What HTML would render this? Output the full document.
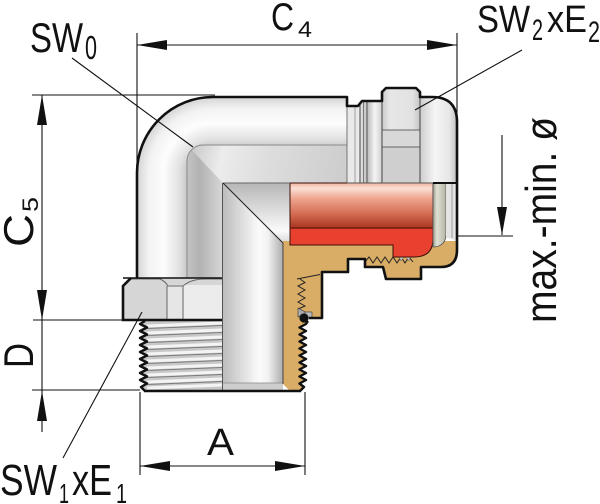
<!DOCTYPE html>
<html><head><meta charset="utf-8"><style>html,body{margin:0;padding:0;background:#fff;width:600px;height:504px;overflow:hidden}svg{display:block}text{font-family:"Liberation Sans",sans-serif;fill:#111}</style></head>
<body>
<svg width="600" height="504" viewBox="0 0 600 504" xmlns="http://www.w3.org/2000/svg">
<defs>
<linearGradient id="shL" gradientUnits="userSpaceOnUse" x1="213" y1="0" x2="137" y2="0">
<stop offset="0.34" stop-color="#c8c8c8"/><stop offset="0.45" stop-color="#e2e2e2"/><stop offset="0.65" stop-color="#fdfdfd"/><stop offset="0.85" stop-color="#f2f2f2"/><stop offset="1" stop-color="#d4d4d4"/></linearGradient>
<linearGradient id="shT" gradientUnits="userSpaceOnUse" x1="0" y1="173" x2="0" y2="97">
<stop offset="0.34" stop-color="#c8c8c8"/><stop offset="0.45" stop-color="#e2e2e2"/><stop offset="0.65" stop-color="#fdfdfd"/><stop offset="0.85" stop-color="#f2f2f2"/><stop offset="1" stop-color="#d4d4d4"/></linearGradient>
<radialGradient id="shC" gradientUnits="userSpaceOnUse" cx="213" cy="173" r="76">
<stop offset="0.34" stop-color="#c8c8c8"/><stop offset="0.45" stop-color="#e2e2e2"/><stop offset="0.65" stop-color="#fdfdfd"/><stop offset="0.85" stop-color="#f2f2f2"/><stop offset="1" stop-color="#d4d4d4"/></radialGradient>
<linearGradient id="mdL" gradientUnits="userSpaceOnUse" x1="187" y1="0" x2="223" y2="0">
<stop offset="0" stop-color="#c4c4c4"/><stop offset="0.35" stop-color="#b2b2b2"/><stop offset="1" stop-color="#d8d8d8"/></linearGradient>
<linearGradient id="mdT" gradientUnits="userSpaceOnUse" x1="187" y1="145" x2="348" y2="183">
<stop offset="0" stop-color="#c4c4c4"/><stop offset="0.22" stop-color="#ececec"/><stop offset="0.5" stop-color="#dddddd"/><stop offset="1" stop-color="#cccccc"/></linearGradient>
<linearGradient id="boV" gradientUnits="userSpaceOnUse" x1="223" y1="0" x2="283" y2="0">
<stop offset="0" stop-color="#bcbcbc"/><stop offset="0.25" stop-color="#d6d6d6"/><stop offset="0.6" stop-color="#fbfbfb"/><stop offset="0.75" stop-color="#f2f2f2"/><stop offset="1" stop-color="#acacac"/></linearGradient>
<linearGradient id="boH" gradientUnits="userSpaceOnUse" x1="0" y1="183" x2="0" y2="243">
<stop offset="0" stop-color="#b6b6b6"/><stop offset="0.4" stop-color="#d8d8d8"/><stop offset="0.8" stop-color="#fafafa"/><stop offset="1" stop-color="#d8d8d8"/></linearGradient>
<linearGradient id="rd" gradientUnits="userSpaceOnUse" x1="0" y1="183" x2="0" y2="228">
<stop offset="0" stop-color="#f0b4a0"/><stop offset="0.12" stop-color="#fbe0d6"/><stop offset="0.35" stop-color="#eea48d"/><stop offset="0.7" stop-color="#d36a50"/><stop offset="1" stop-color="#a8351f"/></linearGradient>
<linearGradient id="sl" gradientUnits="userSpaceOnUse" x1="433" y1="0" x2="446" y2="0">
<stop offset="0" stop-color="#9c9c8c"/><stop offset="0.3" stop-color="#e0e0d4"/><stop offset="1" stop-color="#b4b4a4"/></linearGradient>
<linearGradient id="dm" gradientUnits="userSpaceOnUse" x1="420" y1="0" x2="457" y2="0">
<stop offset="0" stop-color="#cdcdcd"/><stop offset="0.4" stop-color="#f5f5f5"/><stop offset="0.8" stop-color="#e6e6e6"/><stop offset="1" stop-color="#c0c0c0"/></linearGradient>
<linearGradient id="hx" gradientUnits="userSpaceOnUse" x1="382" y1="0" x2="420" y2="0">
<stop offset="0" stop-color="#cacaca"/><stop offset="0.2" stop-color="#e6e6e6"/><stop offset="0.8" stop-color="#e2e2e2"/><stop offset="1" stop-color="#c6c6c6"/></linearGradient>
<linearGradient id="rg" gradientUnits="userSpaceOnUse" x1="358" y1="0" x2="382" y2="0">
<stop offset="0" stop-color="#f0f0f0"/><stop offset="0.4" stop-color="#bdbdbd"/><stop offset="0.7" stop-color="#f4f4f4"/><stop offset="1" stop-color="#d0d0d0"/></linearGradient>
<clipPath id="mbc"><path d="M187,280 V161 A16,16 0 0 1 203,145 H347 V183 H223 V280 Z"/></clipPath>
</defs>

<!-- outer shell -->
<rect x="137" y="173" width="50" height="107" fill="url(#shL)"/>
<rect x="213" y="97" width="134" height="48" fill="url(#shT)"/>
<path d="M213,173 H137 A76,76 0 0 1 213,97 Z" fill="url(#shC)"/>
<!-- middle band -->
<path d="M187,280 V161 A16,16 0 0 1 203,145 H347 V183 H223 V280 Z" fill="url(#mdL)"/>
<polygon points="187,145 347,145 347,183 223,183" fill="url(#mdT)" clip-path="url(#mbc)"/>
<path d="M187,280 V161 A16,16 0 0 1 203,145 H347" fill="none" stroke="#8a8a8a" stroke-width="1"/>

<!-- top right components -->
<rect x="347" y="106" width="11" height="77" fill="#e9e9e9"/>
<line x1="355" y1="106" x2="355" y2="183" stroke="#a0a0a0" stroke-width="1"/>
<path d="M358,183 V106 L362,101 H382 V183 Z" fill="url(#rg)"/>
<line x1="360" y1="103" x2="360" y2="183" stroke="#444" stroke-width="1"/>
<line x1="363.5" y1="101" x2="363.5" y2="183" stroke="#777" stroke-width="1"/>
<line x1="367" y1="101" x2="367" y2="183" stroke="#555" stroke-width="1"/>
<path d="M382,183 V92 L386,88 H416 L420,92 V183 Z" fill="url(#hx)"/>
<rect x="382" y="130" width="38" height="17" fill="#d8d8d8"/>
<rect x="382" y="147" width="38" height="36" fill="#cfcfcf"/>
<line x1="382" y1="130" x2="420" y2="130" stroke="#666" stroke-width="1"/>
<line x1="382" y1="147" x2="420" y2="147" stroke="#666" stroke-width="1"/>
<line x1="382" y1="101" x2="382" y2="183" stroke="#444" stroke-width="1"/>
<path d="M420,183 V97 H432 Q457,97 457,122 V183 Z" fill="url(#dm)"/>
<line x1="420" y1="92" x2="420" y2="183" stroke="#444" stroke-width="1"/>
<line x1="347" y1="97" x2="347" y2="183" stroke="#777" stroke-width="1"/>

<!-- bore -->
<rect x="223" y="183" width="60" height="208" fill="url(#boV)"/>
<polygon points="223,183 290,183 290,243 283,243" fill="url(#boH)"/>
<rect x="223" y="383" width="60" height="8" fill="#cdcdcd"/>
<line x1="223" y1="383" x2="283" y2="383" stroke="#888" stroke-width="0.8"/>

<!-- brass -->
<path d="M283,241 H458 V250 Q458,267 441,267 H421 V279 H386 L383,267 H365 V259 H348 V272 H322 V318 H308 L308,321 306,324 299.5,327.5 306,331 299.5,334.5 306,338 299.5,341.5 306,345 299.5,348.5 306,352 299.5,355.5 306,359 299.5,362.5 306,366 299.5,369.5 306,373 299.5,376.5 306,380 299.5,383.5 304,387 300,391 H290 L283,384 Z" fill="#d9ad66"/>
<polyline points="297,279 320,274.5" fill="none" stroke="#222" stroke-width="1"/>
<polyline points="300,279 305,282.5 298,286 305,290 298,294 305,298 298,302 305,306 298,309" fill="none" stroke="#222" stroke-width="1"/>
<polyline points="365,262 369,257 373,263 377,257 381,263 385,257 389,263 393,257 397,263 401,257 405,263 409,257 413,262" fill="none" stroke="#222" stroke-width="1"/>
<polygon points="397,252 412,252 409,261 405,256 401,261" fill="#c8c8c8" stroke="#555" stroke-width="0.5"/>
<polygon points="298,308 307,313 298,317" fill="#aaa" stroke="#333" stroke-width="0.6"/>
<rect x="305" y="312" width="7" height="6" fill="#bbb" stroke="#333" stroke-width="0.6"/>
<circle cx="304" cy="318" r="4.6" fill="#111"/>
<line x1="283" y1="243" x2="283" y2="384" stroke="#444" stroke-width="1"/>

<!-- red seal -->
<path d="M290,183 H433 V239 Q433,257 414,257 H393 V245 H290 Z" fill="#e8412f" stroke="#3a1008" stroke-width="1"/>
<rect x="290.5" y="183.5" width="142" height="44.5" fill="url(#rd)"/>
<line x1="290" y1="228" x2="433" y2="228" stroke="#6e1e10" stroke-width="1.5"/>

<!-- sleeve / cap right -->
<path d="M433,183 H446 V234 Q446,246 434,247 L433,247 Z" fill="url(#sl)" stroke="#555" stroke-width="0.8"/>
<path d="M446,183 H457 V242 Q452,238 446,238 Z" fill="#e4e4e4"/>
<line x1="452" y1="183" x2="452" y2="238" stroke="#9a9a9a" stroke-width="1"/>
<line x1="433" y1="183" x2="457" y2="183" stroke="#111" stroke-width="2"/>
<line x1="347" y1="183" x2="433" y2="183" stroke="#555" stroke-width="1"/>

<!-- bottom hex nut -->
<path d="M123,320 V286 L131,278 H222 V320 Z" fill="#d6d6d6"/>
<rect x="167" y="285" width="16" height="35" fill="#e6e6e6"/>
<rect x="183" y="285" width="39" height="35" fill="#ececec"/>
<path d="M131,279 H160 Q165,281 168,286 H183 Q191,279 205,279 H222" fill="none" stroke="#666" stroke-width="1"/>
<line x1="167" y1="286" x2="167" y2="320" stroke="#666" stroke-width="1"/>
<line x1="183" y1="286" x2="183" y2="320" stroke="#666" stroke-width="1"/>
<line x1="123" y1="278" x2="222" y2="278" stroke="#111" stroke-width="1.6"/>

<!-- threads -->
<rect x="143" y="320" width="80" height="71" fill="#c8c8c8"/>
<g stroke-linecap="butt">
<line x1="147" y1="326" x2="222" y2="323" stroke="#f4f4f4" stroke-width="3"/><line x1="147" y1="328.5" x2="222" y2="325.5" stroke="#7a7a7a" stroke-width="1"/>
<line x1="147" y1="333" x2="222" y2="330" stroke="#f4f4f4" stroke-width="3"/><line x1="147" y1="335.5" x2="222" y2="332.5" stroke="#7a7a7a" stroke-width="1"/>
<line x1="147" y1="340" x2="222" y2="337" stroke="#f4f4f4" stroke-width="3"/><line x1="147" y1="342.5" x2="222" y2="339.5" stroke="#7a7a7a" stroke-width="1"/>
<line x1="147" y1="347" x2="222" y2="344" stroke="#f4f4f4" stroke-width="3"/><line x1="147" y1="349.5" x2="222" y2="346.5" stroke="#7a7a7a" stroke-width="1"/>
<line x1="147" y1="354" x2="222" y2="351" stroke="#f4f4f4" stroke-width="3"/><line x1="147" y1="356.5" x2="222" y2="353.5" stroke="#7a7a7a" stroke-width="1"/>
<line x1="147" y1="361" x2="222" y2="358" stroke="#f4f4f4" stroke-width="3"/><line x1="147" y1="363.5" x2="222" y2="360.5" stroke="#7a7a7a" stroke-width="1"/>
<line x1="147" y1="368" x2="222" y2="365" stroke="#f4f4f4" stroke-width="3"/><line x1="147" y1="370.5" x2="222" y2="367.5" stroke="#7a7a7a" stroke-width="1"/>
<line x1="147" y1="375" x2="222" y2="372" stroke="#f4f4f4" stroke-width="3"/><line x1="147" y1="377.5" x2="222" y2="374.5" stroke="#7a7a7a" stroke-width="1"/>
<line x1="147" y1="382" x2="222" y2="379" stroke="#f4f4f4" stroke-width="3"/><line x1="147" y1="384.5" x2="222" y2="381.5" stroke="#7a7a7a" stroke-width="1"/>
<line x1="147" y1="388" x2="222" y2="385" stroke="#f4f4f4" stroke-width="3"/>
</g>
<polygon points="138,320 145,321 140,324 147,327.5 140,331 147,334.5 140,338 147,341.5 140,345 147,348.5 140,352 147,355.5 140,359 147,362.5 140,366 147,369.5 140,373 147,376.5 140,380 147,383.5 141,387 145,391 136,391" fill="#fff"/>
<polyline points="145,321 140,324 147,327.5 140,331 147,334.5 140,338 147,341.5 140,345 147,348.5 140,352 147,355.5 140,359 147,362.5 140,366 147,369.5 140,373 147,376.5 140,380 147,383.5 141,387 145,391" fill="none" stroke="#111" stroke-width="2.4" stroke-linejoin="round"/>

<!-- inner lines -->
<line x1="222.5" y1="183" x2="222.5" y2="391" stroke="#555" stroke-width="1"/>
<line x1="223" y1="183" x2="290" y2="183" stroke="#666" stroke-width="1"/>
<line x1="223" y1="183" x2="283" y2="243" stroke="#222" stroke-width="1"/>

<!-- thick outlines -->
<path d="M137,278 V173 A76,76 0 0 1 213,97 H347 V106 H358 L362,101 H382 V92 L386,88 H416 L420,92 V97 H432 Q457,97 457,122 V250 Q457,267 441,267 H421 V279 H386 L383,267 H365 V259 H348 V272 H322 V318 H309" fill="none" stroke="#111" stroke-width="2.6" stroke-linejoin="round"/>
<polyline points="308,321 306,324 299.5,327.5 306,331 299.5,334.5 306,338 299.5,341.5 306,345 299.5,348.5 306,352 299.5,355.5 306,359 299.5,362.5 306,366 299.5,369.5 306,373 299.5,376.5 306,380 299.5,383.5 304,387 300,391" fill="none" stroke="#111" stroke-width="2.4" stroke-linejoin="round"/>
<path d="M131,278 L123,286 V320 H222" fill="none" stroke="#111" stroke-width="2.6"/>
<line x1="144" y1="391" x2="301" y2="391" stroke="#111" stroke-width="2.6"/>

<!-- dimension lines -->
<g stroke="#111" stroke-width="1.1" fill="none">
<line x1="137" y1="33" x2="137" y2="175"/>
<line x1="457" y1="33" x2="457" y2="118"/>
<line x1="137" y1="45" x2="457" y2="45"/>
<line x1="32" y1="95" x2="215" y2="95"/>
<line x1="42" y1="95" x2="42" y2="432"/>
<line x1="33" y1="320" x2="123" y2="320"/>
<line x1="32" y1="390" x2="140" y2="390"/>
<line x1="140" y1="392" x2="140" y2="475"/>
<line x1="305" y1="392" x2="305" y2="475"/>
<line x1="140" y1="466" x2="305" y2="466"/>
<line x1="502" y1="135" x2="502" y2="235"/>
<line x1="457" y1="236" x2="513" y2="236"/>
<line x1="72" y1="58" x2="193" y2="147"/>
<line x1="522" y1="50" x2="415" y2="110"/>
<line x1="63" y1="458" x2="142" y2="312"/>
</g>
<g fill="#111">
<polygon points="137,45 167,40 167,50"/>
<polygon points="457,45 427,40 427,50"/>
<polygon points="42,95 37,125 47,125"/>
<polygon points="42,320 37,290 47,290"/>
<polygon points="42,391 37,421 47,421"/>
<polygon points="140,466 170,461 170,471"/>
<polygon points="305,466 275,461 275,471"/>
<polygon points="502,235 497,207 507,207"/>
</g>

<!-- labels -->
<text x="30" y="52" font-size="42" textLength="53" lengthAdjust="spacingAndGlyphs">SW</text>
<text x="85" y="59" font-size="33" textLength="12" lengthAdjust="spacingAndGlyphs">0</text>
<text x="271" y="30" font-size="39" textLength="23" lengthAdjust="spacingAndGlyphs">C</text>
<text x="298" y="37" font-size="22" textLength="14" lengthAdjust="spacingAndGlyphs">4</text>
<text x="477" y="32" font-size="38" textLength="53" lengthAdjust="spacingAndGlyphs">SW</text>
<text x="532" y="40" font-size="30" textLength="11" lengthAdjust="spacingAndGlyphs">2</text>
<text x="547" y="32" font-size="38" textLength="40" lengthAdjust="spacingAndGlyphs">xE</text>
<text x="588" y="42" font-size="30" textLength="12" lengthAdjust="spacingAndGlyphs">2</text>
<text x="0" y="495" font-size="44" textLength="57" lengthAdjust="spacingAndGlyphs">SW</text>
<text x="59" y="503" font-size="28" textLength="10" lengthAdjust="spacingAndGlyphs">1</text>
<text x="72" y="495" font-size="44" textLength="40" lengthAdjust="spacingAndGlyphs">xE</text>
<text x="116" y="503" font-size="28" textLength="11" lengthAdjust="spacingAndGlyphs">1</text>
<text x="207" y="455" font-size="38" textLength="27" lengthAdjust="spacingAndGlyphs">A</text>
<g transform="translate(33,247) rotate(-90)">
<text x="0" y="0" font-size="42" textLength="33" lengthAdjust="spacingAndGlyphs">C</text>
<text x="35" y="5" font-size="22" textLength="15" lengthAdjust="spacingAndGlyphs">5</text>
</g>
<g transform="translate(33,368) rotate(-90)">
<text x="0" y="0" font-size="42" textLength="25" lengthAdjust="spacingAndGlyphs">D</text>
</g>
<g transform="translate(556,323) rotate(-90)">
<text x="0" y="0" font-size="44" textLength="206" lengthAdjust="spacingAndGlyphs">max.-min. ø</text>
</g>
</svg>
</body></html>
